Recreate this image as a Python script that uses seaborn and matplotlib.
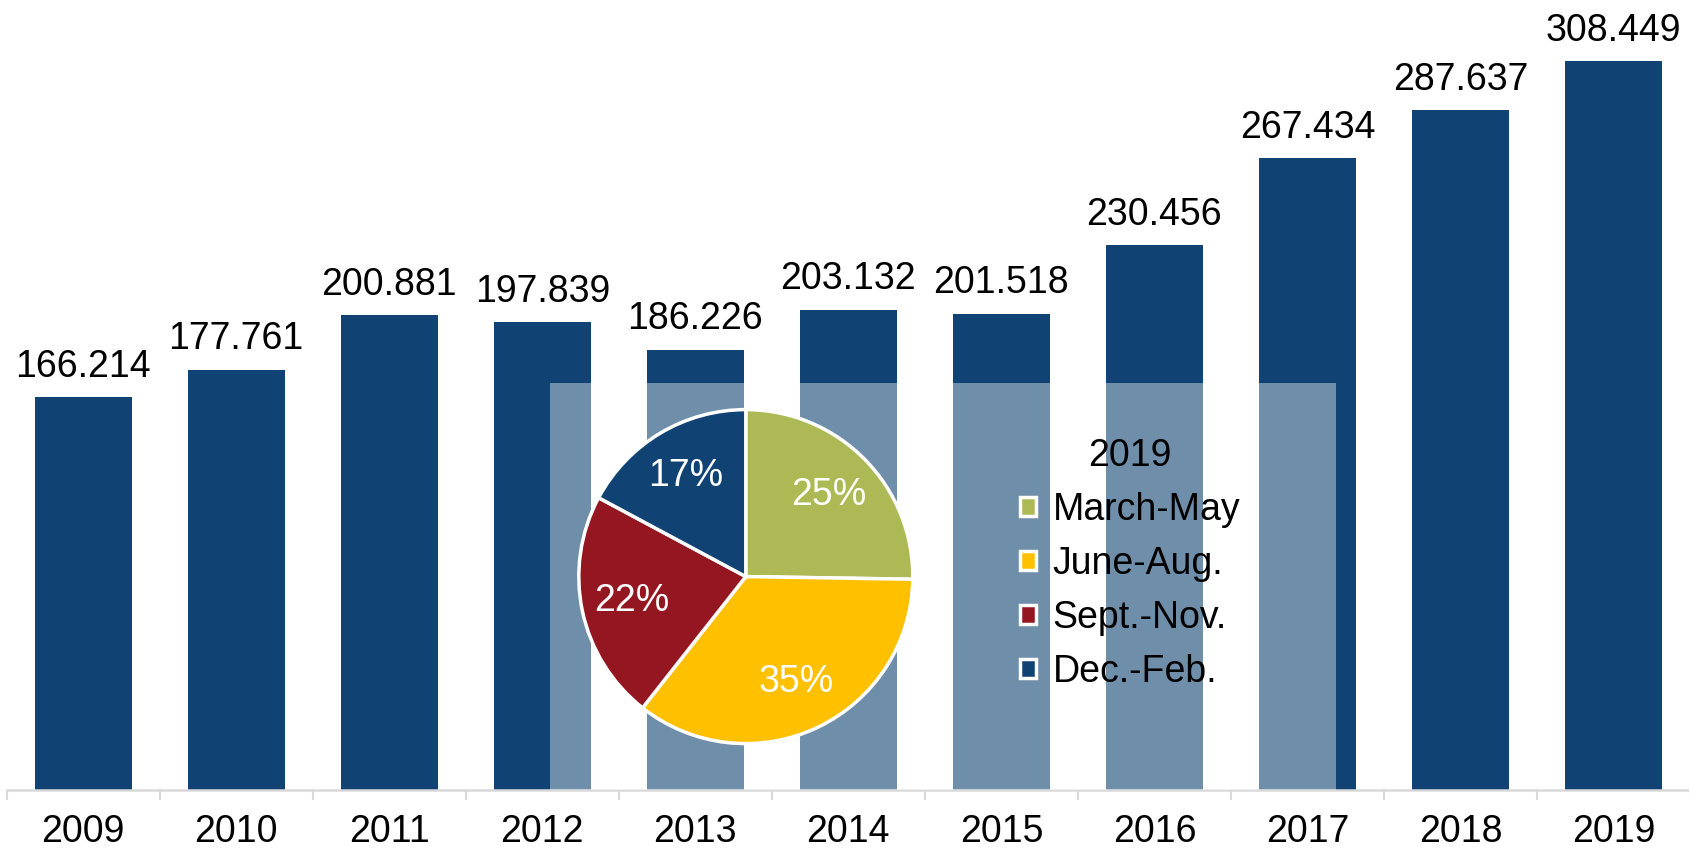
import matplotlib
matplotlib.use("Agg")
import matplotlib.pyplot as plt
import seaborn as sns
import pandas as pd

years = ["2009", "2010", "2011", "2012", "2013", "2014", "2015", "2016", "2017", "2018", "2019"]
values = [166.214, 177.761, 200.881, 197.839, 186.226, 203.132, 201.518, 230.456, 267.434, 287.637, 308.449]

seasons = ["March-May", "June-Aug.", "Sept.-Nov.", "Dec.-Feb."]
shares = [25, 35, 22, 17]
season_colors = ["#ADB954", "#FFC000", "#931621", "#104373"]

bar_color = "#104373"
grid_grey = "#D9D9D9"

sns.set_theme(style="white")
plt.rcParams["font.family"] = ["Liberation Sans", "DejaVu Sans"]
plt.rcParams["text.color"] = "black"
plt.rcParams["xtick.labelcolor"] = "black"

W, H = 1690, 851
fig = plt.figure(figsize=(W / 100, H / 100), dpi=100)

# --- main bar chart ---
ax = fig.add_axes([6.7 / W, 61 / H, (W - 6.7) / W, 790 / H])
df = pd.DataFrame({"year": years, "value": values})
sns.barplot(data=df, x="year", y="value", color=bar_color, width=0.636,
            saturation=1, linewidth=0, ax=ax)
ax.set_xlim(-0.5, 10.5 - 11 / 154)
ax.set_ylim(0, 334.3)
ax.bar_label(ax.containers[0], labels=[f"{v:.3f}" for v in values],
             padding=9, fontsize=27, color="black")

for s in ["top", "right", "left"]:
    ax.spines[s].set_visible(False)
ax.spines["bottom"].set_color(grid_grey)
ax.spines["bottom"].set_linewidth(1.8)
ax.set_yticks([])
ax.set_xlabel("")
ax.set_ylabel("")
ax.set_xticks(range(len(years)))
ax.set_xticklabels(years, fontsize=27, color="black")
ax.set_xticks([i - 0.5 for i in range(len(years) + 1)], minor=True)
ax.tick_params(axis="x", which="major", length=0, pad=17)
ax.tick_params(axis="x", which="minor", length=7, width=1.5, color=grid_grey,
               direction="out", bottom=True)

# --- translucent inset panel ---
ov = fig.add_axes([549.7 / W, 61 / H, (1336.5 - 549.7) / W, (790 - 382.6) / H])
ov.patch.set_facecolor((1, 1, 1, 0.4))
ov.set_xticks([])
ov.set_yticks([])
for s in ov.spines.values():
    s.set_visible(False)

# --- pie for 2019 ---
r = 167
cx, cy = 745.8, 576.6
pax = fig.add_axes([(cx - r) / W, (H - cy - r) / H, 2 * r / W, 2 * r / H])
pax.patch.set_alpha(0)
wedges, texts, autotexts = pax.pie(
    shares, colors=season_colors, startangle=90, counterclock=False,
    autopct=lambda p: f"{p:.0f}%", pctdistance=0.7,
    wedgeprops=dict(edgecolor="white", linewidth=2.5),
    textprops=dict(color="white", fontsize=27))
pax.set_xlim(-1, 1)
pax.set_ylim(-1, 1)

leg = pax.legend(wedges, seasons, title="2019", fontsize=27, title_fontsize=27,
                 loc="upper left", bbox_to_anchor=(1020 / W, 1 - 438 / H),
                 bbox_transform=fig.transFigure, frameon=False, borderpad=0,
                 borderaxespad=0, handlelength=0.42, handleheight=0.42,
                 handletextpad=0.45, labelspacing=0.48)
for t in leg.get_texts():
    t.set_color("black")
leg.get_title().set_color("black")

fig.savefig("out.png", dpi=100)
